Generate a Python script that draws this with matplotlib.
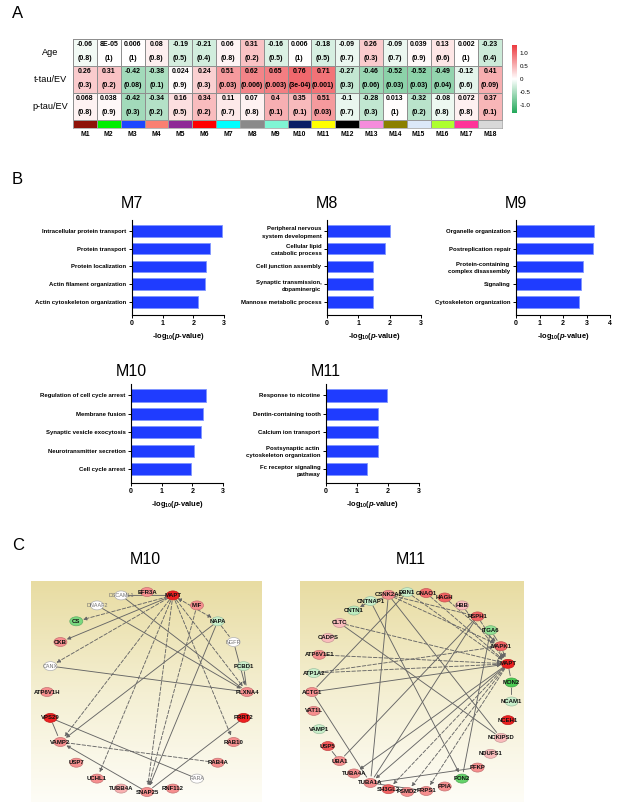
import numpy as np
import matplotlib
matplotlib.use('Agg')
import matplotlib.pyplot as plt
from matplotlib.colors import LinearSegmentedColormap, ListedColormap, Normalize
from matplotlib.cm import ScalarMappable
from matplotlib.patches import Ellipse

plt.rcParams['font.family'] = ['Liberation Sans', 'DejaVu Sans']
plt.rcParams['mathtext.fontset'] = 'custom'
plt.rcParams['mathtext.rm'] = 'Liberation Sans:bold'
plt.rcParams['mathtext.it'] = 'Liberation Sans:bold:italic'
plt.rcParams['mathtext.bf'] = 'Liberation Sans:bold'

# ---------------- DATA ----------------
modules = ['M%d' % i for i in range(1, 19)]
traits = ['Age', 't-tau/EV', 'p-tau/EV']
r_age = ['-0.06', '8E-05', '0.006', '0.08', '-0.19', '-0.21', '0.06', '0.31', '-0.16',
         '0.006', '-0.18', '-0.09', '0.26', '-0.09', '0.039', '0.13', '0.002', '-0.23']
p_age = ['0.8', '1', '1', '0.8', '0.5', '0.4', '0.8', '0.2', '0.5',
         '1', '0.5', '0.7', '0.3', '0.7', '0.9', '0.6', '1', '0.4']
r_ttau = ['0.26', '0.31', '-0.42', '-0.38', '0.024', '0.24', '0.51', '0.62', '0.65',
          '0.76', '0.71', '-0.27', '-0.46', '-0.52', '-0.52', '-0.49', '-0.12', '0.41']
p_ttau = ['0.3', '0.2', '0.08', '0.1', '0.9', '0.3', '0.03', '0.006', '0.003',
          '3e-04', '0.001', '0.3', '0.06', '0.03', '0.03', '0.04', '0.6', '0.09']
r_ptau = ['0.068', '0.038', '-0.42', '-0.34', '0.16', '0.34', '0.11', '0.07', '0.4',
          '0.35', '0.51', '-0.1', '-0.28', '0.013', '-0.32', '-0.08', '0.072', '0.37']
p_ptau = ['0.8', '0.9', '0.3', '0.2', '0.5', '0.2', '0.7', '0.8', '0.1',
          '0.1', '0.03', '0.7', '0.3', '1', '0.2', '0.8', '0.8', '0.1']
module_colors = ['#8e1208', '#00ee00', '#1e46ff', '#fa8072', '#8e2a96', '#ff0000',
                 '#00ffff', '#8a8a8a', '#7ff5d4', '#0a1f66', '#ffff00', '#000000',
                 '#f58cdc', '#8b8000', '#dce8f8', '#adff2f', '#ff3399', '#d8d8d8']
cbar_ticks = [-1.0, -0.5, 0, 0.5, 1.0]
cbar_labels = ['-1.0', '-0.5', '0', '0.5', '1.0']

m7_terms = ['Intracellular protein transport', 'Protein transport', 'Protein localization',
            'Actin filament organization', 'Actin cytoskeleton organization']
m7_vals = [2.95, 2.55, 2.4, 2.38, 2.15]
m8_terms = ['Peripheral nervous\nsystem development', 'Cellular lipid\ncatabolic process',
            'Cell junction assembly', 'Synaptic transmission,\ndopaminergic',
            'Mannose metabolic process']
m8_vals = [2.01, 1.85, 1.48, 1.48, 1.48]
m9_terms = ['Organelle organization', 'Postreplication repair',
            'Protein-containing \ncomplex disassembly', 'Signaling', 'Cytoskeleton organization']
m9_vals = [3.32, 3.26, 2.84, 2.77, 2.67]
m10_terms = ['Regulation of cell cycle arrest', 'Membrane fusion', 'Synaptic vesicle exocytosis',
             'Neurotransmitter secretion', 'Cell cycle arrest']
m10_vals = [2.46, 2.35, 2.28, 2.07, 1.96]
m11_terms = ['Response to nicotine', 'Dentin-containing tooth', 'Calcium ion transport',
             'Postsynaptic actin \ncytoskeleton organization', 'Fc receptor signaling\npathway']
m11_vals = [1.98, 1.69, 1.69, 1.69, 1.33]

# network M10 (IPA circular layout, alphabetical)
n10_nodes = ['ATP6V1H', 'CANX', 'CKB', 'CS', 'DNAAF2', 'DSCAML1', 'EFR3A', 'MAPT', 'MIF',
             'NAPA', 'NGFR', 'PCBD1', 'PLXNA4', 'PRRT2', 'RAB10', 'RAB4A', 'RARA', 'RNF112',
             'SNAP25', 'TUBB4A', 'UCHL1', 'USP7', 'VAMP2', 'VPS29']
n10_level = [1, 0, 1, -1.2, 0, 0, 1, 2, 1, -0.5, 0, -0.5, 1, 2, 1, 1, 0, 1,
             1, 0.7, 1, 1, 1, 2]
e10_src = ['MAPT', 'MAPT', 'MAPT', 'DSCAML1', 'MAPT', 'MAPT', 'MAPT', 'MAPT', 'MAPT', 'MAPT',
           'DNAAF2', 'DSCAML1', 'CANX', 'NGFR', 'PCBD1', 'NAPA', 'NAPA', 'NAPA', 'VPS29',
           'VPS29', 'VAMP2', 'SNAP25', 'PRRT2', 'MIF']
e10_dst = ['CS', 'CKB', 'CANX', 'MAPT', 'NAPA', 'PLXNA4', 'VAMP2', 'UCHL1', 'SNAP25', 'RAB10',
           'PLXNA4', 'PLXNA4', 'PLXNA4', 'PLXNA4', 'PLXNA4', 'NGFR', 'VAMP2', 'SNAP25', 'VAMP2',
           'RARA', 'RAB4A', 'VAMP2', 'SNAP25', 'SNAP25']
e10_dash = [1, 0, 1, 0, 1, 1, 1, 1, 1, 1, 0, 0, 0, 0, 0, 1, 0, 0, 0, 0, 1, 0, 0, 1]
e10_arrow = [1, 1, 1, 0, 2, 1, 1, 1, 1, 1, 1, 0, 0, 1, 0, 0, 1, 1, 0, 0, 0, 1, 0, 1]

# network M11
n11_nodes = ['ACTG1', 'ATP1A2', 'ATP6V1E1', 'CADPS', 'CLTC', 'CNTN1', 'CNTNAP1', 'CSNK2A2',
             'DBN1', 'GNAO1', 'HAGH', 'HBB', 'HSPH1', 'ITGA6', 'MAPK1', 'MAPT', 'MON2',
             'NCAM1', 'NCEH1', 'NCKIPSD', 'NDUFS1', 'PFKP', 'PON2', 'PPIA', 'PRPS1', 'PSMD2',
             'SH3GL2', 'TUBA1A', 'TUBA4A', 'UBA1', 'USP5', 'VAMP1', 'VAT1L']
n11_level = [1, -0.5, 1, 0.6, 0.6, -0.6, -0.5, 1, -0.5, 1.3, 1.4, 0.6, 1.4, -1, 1.4, 2,
             -1.6, -0.5, 2, 0.6, 0.6, 1, -1.4, 1, 1, 1, 1.4, 1, 1, 1, 1.5, -0.5, 1]
e11_src = ['DBN1', 'CNTNAP1', 'CSNK2A2', 'DBN1', 'GNAO1', 'HBB', 'HSPH1', 'MAPK1', 'ITGA6',
           'CLTC', 'CLTC', 'CSNK2A2', 'CSNK2A2', 'CNTNAP1', 'DBN1', 'ATP6V1E1', 'ATP1A2',
           'ATP1A2', 'ACTG1', 'ACTG1', 'HSPH1', 'HSPH1', 'ITGA6', 'MAPT', 'MAPT', 'MAPT',
           'MAPT', 'MAPT', 'TUBA1A', 'TUBA1A', 'MAPT', 'MON2', 'UBA1', 'CSNK2A2', 'HAGH']
e11_dst = ['CNTNAP1', 'CNTN1', 'MAPK1', 'MAPT', 'MAPT', 'MAPT', 'MAPT', 'MAPT', 'MAPK1',
           'MAPT', 'NCKIPSD', 'NCKIPSD', 'TUBA1A', 'PON2', 'ACTG1', 'MAPT', 'MAPT',
           'MAPK1', 'MAPT', 'TUBA1A', 'UBA1', 'TUBA1A', 'PON2', 'TUBA4A', 'TUBA1A', 'SH3GL2',
           'PSMD2', 'PRPS1', 'PFKP', 'PRPS1', 'MON2', 'NCAM1', 'USP5', 'HSPH1', 'MAPK1']
e11_dash = [0, 0, 1, 1, 1, 1, 1, 0, 0, 1, 0, 0, 0, 0, 0, 1, 1, 1, 0, 0, 0, 0, 0, 0, 0, 1,
            1, 1, 0, 0, 0, 0, 0, 1, 1]
e11_arrow = [0, 1, 1, 1, 1, 1, 1, 1, 0, 1, 0, 0, 0, 1, 0, 1, 1, 1, 1, 0, 0, 0, 0, 1, 1, 1,
             1, 1, 0, 0, 0, 0, 0, 0, 1]

# ---------------- FIGURE ----------------
W, H = 625, 809
fig = plt.figure(figsize=(W / 100, H / 100), dpi=100)


def px_axes(x0, y0, x1, y1):
    return fig.add_axes([x0 / W, 1 - y1 / H, (x1 - x0) / W, (y1 - y0) / H])


def ftext(x, y, s, **kw):
    return fig.text(x / W, 1 - y / H, s, **kw)


cmap = LinearSegmentedColormap.from_list('gwr', ['#22a85a', '#ffffff', '#ec3a40'])

# ---------- Panel A ----------
ftext(12, 14, 'A', fontsize=12, va='center')
r_txt = [r_age, r_ttau, r_ptau]
p_txt = [p_age, p_ttau, p_ptau]
vals = np.array([[float(v) for v in row] for row in r_txt])
ax = px_axes(73, 39, 502, 120)
ax.pcolormesh(vals, cmap=cmap, vmin=-1, vmax=1, edgecolors='#8f8f8f', linewidth=0.6)
ax.set_xlim(0, 18)
ax.set_ylim(3, 0)
for i in range(3):
    for j in range(18):
        ax.text(j + 0.5, i + 0.21, r_txt[i][j], ha='center', va='center', fontsize=5,
                fontweight='bold')
        ax.text(j + 0.5, i + 0.72, '(%s)' % p_txt[i][j], ha='center', va='center',
                fontsize=5, fontweight='bold')
ax.set_xticks([])
ax.set_yticks([])
for s in ax.spines.values():
    s.set_color('#8f8f8f')
    s.set_linewidth(0.6)
for i, t in enumerate(traits):
    ftext(50, 39 + 27 * i + 13.5, t, ha='center', va='center', fontsize=6.6)

sax = px_axes(73, 120, 502, 128)
sax.pcolormesh(np.arange(18).reshape(1, -1), cmap=ListedColormap(module_colors),
               vmin=-0.5, vmax=17.5, edgecolors='#9a9a9a', linewidth=0.5)
sax.set_xlim(0, 18)
sax.set_ylim(0, 1)
sax.set_yticks([])
sax.set_xticks(np.arange(18) + 0.5)
sax.set_xticklabels(modules, fontsize=4.9, fontweight='bold')
sax.tick_params(axis='x', length=0, pad=2)
for s in sax.spines.values():
    s.set_color('#9a9a9a')
    s.set_linewidth(0.5)

cax = px_axes(512, 45, 517, 113)
cb = fig.colorbar(ScalarMappable(Normalize(-1.3, 1.3), cmap), cax=cax, ticks=cbar_ticks)
cb.set_ticklabels(cbar_labels)
cb.outline.set_visible(False)
cax.tick_params(length=0, labelsize=4.5, pad=2)

# ---------- Panel B ----------
ftext(12, 180, 'B', fontsize=12, va='center')


def bar_panel(x0, y0, x1, y1, terms, values, xmax, title, title_y):
    a = px_axes(x0, y0, x1, y1)
    yy = np.arange(len(terms))
    a.barh(yy, values, height=0.66, color='#1f3cff', edgecolor='#7f95ff', linewidth=0.6)
    a.set_xlim(0, xmax)
    a.set_ylim(len(terms) - 1 + 0.75, -0.62)
    a.set_xticks(range(xmax + 1))
    a.set_yticks(yy)
    a.set_yticklabels(terms, fontsize=4.3, fontweight='bold', linespacing=1.55)
    for lab in a.get_xticklabels():
        lab.set_fontweight('bold')
    a.spines['top'].set_visible(False)
    a.spines['right'].set_visible(False)
    for s in ('left', 'bottom'):
        a.spines[s].set_linewidth(0.8)
    a.tick_params(axis='y', length=2.5, width=0.7, pad=1.5)
    a.tick_params(axis='x', length=2.5, width=0.7, labelsize=5, pad=1)
    a.set_xlabel(r'-log$_{10}$($\it{p}$-value)', fontsize=5.4, fontweight='bold', labelpad=3)
    ftext(x0, title_y, title, ha='center', va='center', fontsize=11.5)
    return a


bar_panel(132, 220, 224, 315, m7_terms, m7_vals, 3, 'M7', 203)
bar_panel(327, 220, 421, 315, m8_terms, m8_vals, 3, 'M8', 203)
bar_panel(516, 220, 610, 315, m9_terms, m9_vals, 4, 'M9', 203)
bar_panel(131, 384, 223, 483, m10_terms, m10_vals, 3, 'M10', 371)
bar_panel(326, 384, 419, 483, m11_terms, m11_vals, 3, 'M11', 371)

# ---------- Panel C ----------
ftext(12, 546, 'C', fontsize=12, va='center')
node_cmap = LinearSegmentedColormap.from_list('nd', ['#22c02a', '#ffffff', '#ee2020'])
bg_cmap = LinearSegmentedColormap.from_list('bg', ['#fefdf7', '#f4efd2', '#e8dca2'])


def draw_network(x0, y0, x1, y1, cx, cy, nodes, levels, src, dst, dash, arrow, title):
    a = px_axes(x0, y0, x1, y1)
    ext = [x0 - cx, x1 - cx, cy - y1, cy - y0]
    a.imshow(np.linspace(0, 1, 256).reshape(-1, 1), cmap=bg_cmap, extent=ext,
             origin='lower', aspect='auto', zorder=0)
    a.set_xlim(ext[0], ext[1])
    a.set_ylim(ext[2], ext[3])
    n = len(nodes)
    ang = np.deg2rad(180 - np.arange(n) * 360.0 / n)
    R = 100
    pos = {nm: (R * np.cos(t), R * np.sin(t)) for nm, t in zip(nodes, ang)}
    for s, d, ds, ar in zip(src, dst, dash, arrow):
        style = {0: '-', 1: '-|>', 2: '<|-|>'}[ar]
        a.annotate('', xy=pos[d], xytext=pos[s], zorder=2,
                   arrowprops=dict(arrowstyle=style, color='#666666', lw=0.65,
                                   linestyle=(0, (4, 2)) if ds else '-',
                                   shrinkA=4, shrinkB=5, mutation_scale=5))
    nn = Normalize(-2, 2)
    for nm, lv in zip(nodes, levels):
        x, y = pos[nm]
        fc = node_cmap(nn(lv))
        ec = '#b0b0b0' if lv == 0 else tuple(np.array(fc[:3]) * 0.8)
        a.add_patch(Ellipse((x, y), 13, 9, facecolor=fc, edgecolor=ec, lw=0.5, zorder=3))
        if lv == 0:
            a.text(x, y, nm, ha='center', va='center', fontsize=3.9, color='#707070', zorder=4)
        else:
            a.text(x, y, nm, ha='center', va='center', fontsize=4.3, fontweight='bold',
                   color='#111111', zorder=4)
    a.axis('off')
    ftext((x0 + x1) / 2.0 - 1, 559, title, ha='center', va='center', fontsize=11.5)


draw_network(31, 581, 262, 802, 147, 692, n10_nodes, n10_level, e10_src, e10_dst,
             e10_dash, e10_arrow, 'M10')
draw_network(300, 581, 524, 802, 412, 692, n11_nodes, n11_level, e11_src, e11_dst,
             e11_dash, e11_arrow, 'M11')

fig.savefig('out.png', dpi=100)
